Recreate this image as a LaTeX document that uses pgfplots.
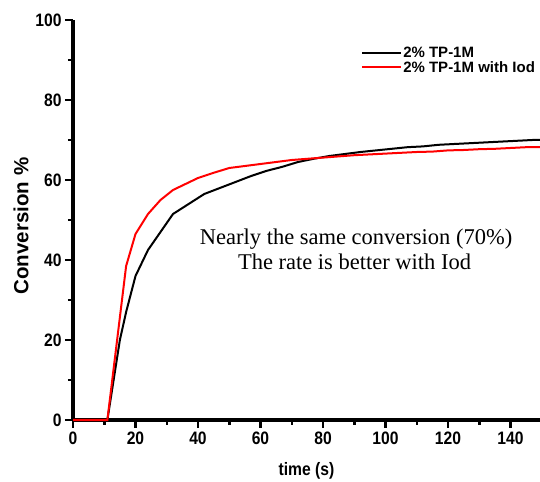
\documentclass[border=0pt]{standalone}
\usepackage{fontspec}
\setmainfont{Liberation Serif}
\setsansfont{Liberation Sans}
\newfontfamily\condsans[FakeStretch=0.87]{Liberation Sans}
\usepackage{pgfplots}
\pgfplotsset{compat=1.18}
\begin{document}
\begin{tikzpicture}
\path[use as bounding box] (-73bp,-62bp) rectangle (467bp,420bp);
\begin{axis}[
  scale only axis,
  width=468.75bp, height=400bp,
  xmin=0, xmax=150, ymin=0, ymax=100,
  axis lines=left,
  axis line style={-, line width=3bp},
  xtick pos=left, ytick pos=left,
  xtick={0,20,...,140}, ytick={0,20,...,100},
  minor x tick num=1, minor y tick num=1,
  tick align=outside,
  major tick length=8bp, minor tick length=5bp,
  every tick/.append style={black, line width=2.5bp},
  tick style={black, line width=2.5bp},
  /pgf/number format/assume math mode=true,
  ticklabel style={font=\condsans\bfseries\fontsize{18bp}{20bp}\selectfont},
  xlabel={time (s)},
  ylabel={Conversion \%},
  every axis x label/.style={at={(axis description cs:0.498,-0.1275)}, anchor=center, font=\condsans\bfseries\fontsize{18bp}{20bp}\selectfont},
  every axis y label/.style={at={(axis description cs:-0.111,0.485)}, rotate=90, anchor=center, font=\sffamily\bfseries\fontsize{20.5bp}{24bp}\selectfont},
  legend style={at={(axis description cs:0.6145,0.935)}, anchor=north west, draw=none, fill=none,
    font=\sffamily\bfseries\fontsize{15bp}{20.5bp}\selectfont, row sep=0pt, inner sep=0pt,
    nodes={inner sep=1bp}},
  legend cell align=left,
  legend image code/.code={\draw[#1] (0bp,0bp) -- (39bp,0bp);},
  clip=false,
]
\addplot[black, line width=2bp] coordinates {
(0,0) (11,0) (15,20) (17,27) (20,36) (24,42.5) (28,47) (32,51.5) (37,54) (42,56.5)
(47,58) (52,59.5) (57,61) (62,62.3) (67,63.3) (72,64.5) (77,65.3) (82,66) (87,66.5)
(92,67) (97,67.4) (102,67.8) (107,68.2) (112,68.4) (117,68.8) (122,69) (127,69.2)
(132,69.4) (137,69.6) (142,69.8) (147,70) (150,70)
};
\addlegendentry{2\% TP-1M}
\addplot[red, line width=2bp] coordinates {
(0,0) (11,0) (17,38.5) (20,46.5) (24,51.5) (28,55) (32,57.5) (36,59) (40,60.5)
(45,61.8) (50,63) (55,63.5) (60,64) (65,64.5) (70,65) (75,65.3) (80,65.6) (85,65.9)
(90,66.2) (95,66.4) (100,66.6) (105,66.8) (110,67) (115,67.1) (120,67.4) (125,67.5)
(130,67.7) (135,67.8) (140,68) (145,68.2) (150,68.2)
};
\addlegendentry{2\% TP-1M with Iod}
\node[anchor=base, inner sep=0pt, font=\fontsize{22.5bp}{26bp}\selectfont] at (axis cs:90.6,43.75) {Nearly the same conversion (70\%)};
\node[anchor=base, inner sep=0pt, font=\fontsize{22.5bp}{26bp}\selectfont] at (axis cs:90.1,37.5) {The rate is better with Iod};
\end{axis}
\end{tikzpicture}
\end{document}
